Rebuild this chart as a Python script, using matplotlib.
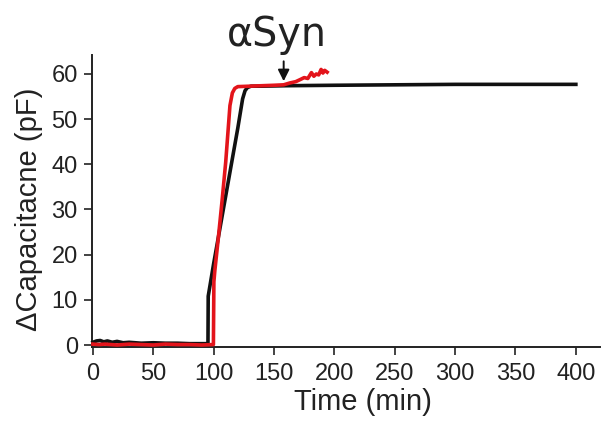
import matplotlib
matplotlib.use("Agg")
import matplotlib.pyplot as plt

# Black trace (control)
black_t = [0, 3, 6, 9, 12, 16, 20, 25, 30, 40, 50, 60, 70, 80, 90, 95.3,
           95.5, 100, 105, 110, 115, 120, 124, 126, 128, 131, 140, 160,
           200, 250, 300, 350, 400]
black_v = [0.6, 0.9, 1.0, 0.7, 0.9, 0.6, 0.8, 0.5, 0.6, 0.4, 0.5, 0.4, 0.4,
           0.3, 0.3, 0.3, 10.8, 18.0, 25.5, 33.0, 40.5, 48.0, 54.5, 56.3,
           57.0, 57.3, 57.3, 57.4, 57.5, 57.6, 57.7, 57.7, 57.7]

# Red trace (with aSyn)
red_t = [0, 5, 10, 20, 30, 40, 50, 60, 70, 80, 90, 99.8, 100.2, 101, 104,
         107, 110, 113.5, 115.5, 117.5, 120, 130, 140, 150, 158, 163, 168,
         172, 175, 178, 181, 183, 185, 187, 189, 190.5, 192, 194]
red_v = [0.2, 0.1, 0.2, 0.0, 0.2, 0.1, 0.0, 0.2, 0.1, 0.1, 0.0, 0.1, 14.0,
         16.5, 24.0, 32.0, 40.5, 53.0, 55.8, 56.8, 57.2, 57.3, 57.4, 57.5,
         57.6, 58.0, 58.3, 58.8, 59.2, 59.0, 60.3, 59.5, 60.0, 59.8, 61.0,
         60.2, 60.8, 60.4]

x_ticks = [0, 50, 100, 150, 200, 250, 300, 350, 400]
y_ticks = [0, 10, 20, 30, 40, 50, 60]
arrow_t = 158
annot_text = "\u03b1Syn"

plt.rcParams['font.family'] = ['Liberation Sans', 'DejaVu Sans']

W, H = 601, 421
fig = plt.figure(figsize=(W / 100, H / 100), dpi=100)
ax_l, ax_r, ax_b, ax_t = 91.7, 600.0, 346.5, 55.0
ax = fig.add_axes([ax_l / W, 1 - ax_b / H, (ax_r - ax_l) / W, (ax_b - ax_t) / H])

ax.plot(black_t, black_v, color='#111111', lw=2.6, solid_joinstyle='round',
        clip_on=False, zorder=3)
ax.plot(red_t, red_v, color='#e3141b', lw=2.6, solid_joinstyle='round',
        clip_on=False, zorder=4)

ax.set_xlim(-1, 420)
ax.set_ylim(-0.33, 64.2)
ax.set_xticks(x_ticks)
ax.set_yticks(y_ticks)

for s in ['top', 'right']:
    ax.spines[s].set_visible(False)
for s in ['left', 'bottom']:
    ax.spines[s].set_linewidth(1.4)
    ax.spines[s].set_color('#222222')

ax.tick_params(axis='both', direction='out', length=6, width=1.2,
               color='#222222', labelsize=17, labelcolor='#222222')
ax.tick_params(axis='x', pad=6)
ax.tick_params(axis='y', pad=4)

axw = ax_r - ax_l
axh = ax_b - ax_t
ax.set_xlabel('Time (min)', fontsize=21, color='#222222')
ax.xaxis.label.set_va('baseline')
ax.xaxis.set_label_coords((362.8 - ax_l) / axw, (ax_b - 410) / axh)
ax.set_ylabel('\u0394Capacitacne (pF)', fontsize=21, color='#222222')
ax.yaxis.label.set_ha('center')
ax.yaxis.label.set_va('center')
ax.yaxis.set_label_coords((29 - ax_l) / axw, (ax_b - 209.3) / axh)

ax.annotate('', xy=(arrow_t, 58.4), xytext=(arrow_t, 62.8),
            arrowprops=dict(arrowstyle='-|>', color='#111111', lw=1.4,
                            mutation_scale=17, shrinkA=0, shrinkB=0),
            annotation_clip=False)
fig.text(276.5 / W, 1 - 46 / H, annot_text, fontsize=28.5, ha='center',
         va='baseline', color='#222222', family=['DejaVu Sans'])

fig.savefig('out.png', dpi=100)
